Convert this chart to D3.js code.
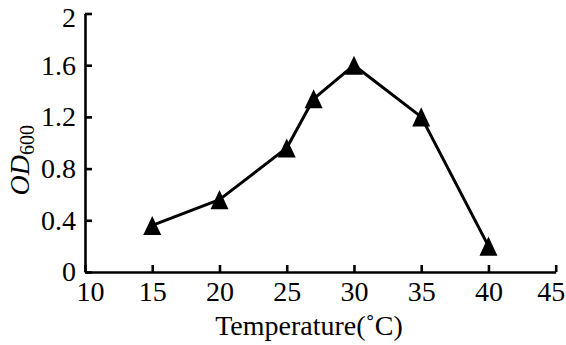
<!DOCTYPE html>
<html>
<head>
<meta charset="utf-8">
<script src="https://cdn.jsdelivr.net/npm/d3@7"></script>
<style>
  body { margin: 0; background: #fff; }
  svg text { font-family: "Liberation Serif", "Times New Roman", serif; fill: #000; }
</style>
</head>
<body>
<div id="chart"></div>
<script>
// temperature (°C) vs OD600
var temps = [15, 20, 25, 27, 30, 35, 40];
var od600 = [0.36, 0.56, 0.96, 1.34, 1.60, 1.20, 0.20];
var xTicks = [10, 15, 20, 25, 30, 35, 40, 45];
var yTicks = [0, 0.4, 0.8, 1.2, 1.6, 2];

var cfg = {
    w: 566,
    h: 345,
    mTop: 13.5,
    mRight: 10.3,
    mBottom: 73,
    mLeft: 85,
    font: "'Liberation Serif', 'Times New Roman', serif"
};
var width = cfg.w - cfg.mLeft - cfg.mRight,
    height = cfg.h - cfg.mTop - cfg.mBottom;

var data = temps.map(function (t, i) { return { t: t, od: od600[i] }; });

var x = d3.scaleLinear().domain([10, 45]).range([0, width]);
var y = d3.scaleLinear().domain([0, 2]).range([height, 0]);

var svg = d3.select("#chart").append("svg")
    .attr("width", cfg.w)
    .attr("height", cfg.h)
    .style("font-family", cfg.font)
    .append("g")
    .attr("transform", "translate(" + cfg.mLeft + "," + cfg.mTop + ")");

var xAxis = d3.axisBottom(x)
    .tickValues(xTicks)
    .tickSizeInner(-7)
    .tickSizeOuter(0)
    .tickPadding(9)
    .tickFormat(function (d) { return String(d); });

var yAxis = d3.axisLeft(y)
    .tickValues(yTicks)
    .tickSizeInner(-7)
    .tickSizeOuter(0)
    .tickPadding(9)
    .tickFormat(function (d) { return String(d); });

function styleAxis(g) {
    g.attr("font-family", cfg.font).attr("font-size", 28);
    g.select(".domain").attr("stroke", "#000").attr("stroke-width", 2.6);
    g.selectAll(".tick line").attr("stroke", "#000").attr("stroke-width", 2.6);
    g.selectAll(".tick text")
        .style("font-family", cfg.font)
        .attr("font-size", 28)
        .attr("fill", "#000");
}

var gx = svg.append("g")
    .attr("transform", "translate(0," + height + ")")
    .call(xAxis)
    .call(styleAxis);

// first and last x labels are nudged inward like in the original
gx.selectAll(".tick text")
    .attr("dx", function (d) { return d === 10 ? 5 : (d === 45 ? -5 : 0); });

var gy = svg.append("g")
    .call(yAxis)
    .call(styleAxis);

// top label sits a bit lower than its tick
gy.selectAll(".tick text")
    .filter(function (d) { return d === 2; })
    .attr("dy", "0.45em");

// line
var valueline = d3.line()
    .x(function (d) { return x(d.t); })
    .y(function (d) { return y(d.od); });

svg.append("path")
    .datum(data)
    .attr("fill", "none")
    .attr("stroke", "#000")
    .attr("stroke-width", 3)
    .attr("stroke-linejoin", "round")
    .attr("d", valueline);

// filled triangle markers, slightly taller than wide, centred on the point
var tallTriangle = {
    draw: function (ctx, size) {
        var w = Math.sqrt(size), hh = w * 0.53;
        ctx.moveTo(0, -hh);
        ctx.lineTo(w / 2, hh);
        ctx.lineTo(-w / 2, hh);
        ctx.closePath();
    }
};

svg.selectAll(".dot")
    .data(data)
    .enter()
    .append("path")
    .attr("class", "dot")
    .attr("d", d3.symbol().type(tallTriangle).size(324))
    .attr("transform", function (d) { return "translate(" + x(d.t) + "," + y(d.od) + ")"; })
    .attr("fill", "#000");

// axis titles
svg.append("text")
    .attr("x", 224)
    .attr("y", 321.5)
    .attr("text-anchor", "middle")
    .attr("font-size", 28)
    .text("Temperature(\u02DAC)");

var yLab = svg.append("text")
    .attr("transform", "translate(-56,182) rotate(-90)")
    .attr("text-anchor", "start");
yLab.append("tspan")
    .attr("font-style", "italic")
    .attr("font-size", 28)
    .text("OD");
yLab.append("tspan")
    .attr("font-size", 20)
    .attr("dy", 5)
    .text("600");
</script>
</body>
</html>
